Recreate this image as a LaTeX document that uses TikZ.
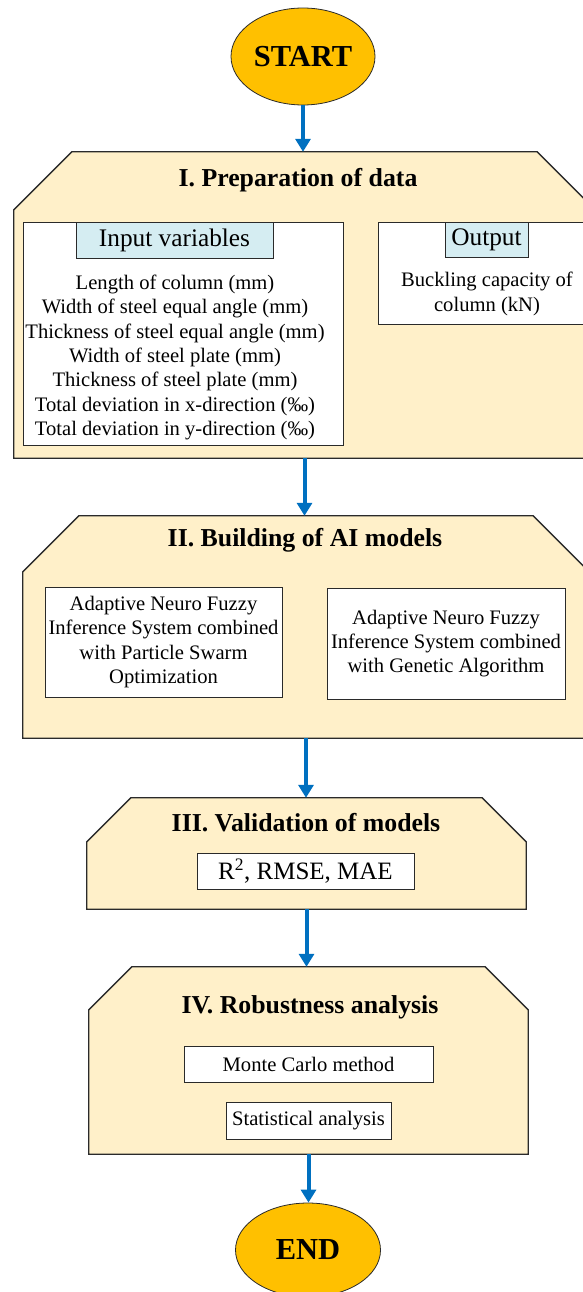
\documentclass[tikz,border=0pt]{standalone}
\usepackage{fontspec}
\setmainfont{Liberation Serif}
\usetikzlibrary{arrows.meta,shapes.geometric,positioning}
\definecolor{secfill}{HTML}{FFF0C9}
\definecolor{termfill}{HTML}{FFC000}
\definecolor{headfill}{HTML}{D5EDF2}
\definecolor{arrowblue}{HTML}{0070C0}
\definecolor{edge}{HTML}{2A2A2A}
\tikzset{
  area/.style={draw=none, inner sep=0pt, minimum width=#1},
  secshape/.style={fill=secfill, draw=edge, line width=1.3pt, line join=miter},
  terminal/.style={ellipse, fill=termfill, draw=edge, line width=0.8pt, inner sep=0pt,
    font=\fontsize{30.5}{31}\selectfont\bfseries},
  title/.style={font=\fontsize{25.8}{28}\selectfont\bfseries, inner sep=0pt},
  whitebox/.style={rectangle, fill=white, draw=edge, line width=1pt, inner sep=0pt},
  headbox/.style={rectangle, fill=headfill, draw=edge, line width=1pt, inner sep=0pt,
    font=\fontsize{25.3}{28}\selectfont},
  body/.style={font=\fontsize{20.6}{24.3}\selectfont, align=center, inner sep=0pt},
  flow/.style={draw=arrowblue, line width=4pt, -{Triangle[width=15pt,length=13pt]}},
}
% section outline: rectangle with the two upper corners cut off
\newcommand\chamferbox[2]{%
  \draw[secshape] (#1.south west) -- ([yshift=-#2]#1.north west)
    -- ([xshift=#2]#1.north west) -- ([xshift=-#2]#1.north east)
    -- ([yshift=-#2]#1.north east) -- (#1.south east) -- cycle;}
\begin{document}
\begin{tikzpicture}[x=1pt,y=-1pt]
\useasboundingbox (0,0) rectangle (583,1292);

% terminals
\node[terminal, minimum width=144pt, minimum height=97pt] (start) at (303,56.5) {START};
\node[terminal, minimum width=145pt, minimum height=94pt] (end) at (308,1250) {END};

% section areas
\node[area=581pt, minimum height=306pt] (s1) at (304.5,305) {};
\node[area=566pt, minimum height=222pt] (s2) at (306,627) {};
\node[area=439pt, minimum height=111pt] (s3) at (306.5,853.5) {};
\node[area=439pt, minimum height=187pt] (s4) at (308.5,1060.5) {};
\chamferbox{s1}{58pt}
\chamferbox{s2}{56pt}
\chamferbox{s3}{44pt}
\chamferbox{s4}{43pt}

% I. Preparation of data
\node[title] (t1) at (298,180) {I. Preparation of data};
\node[whitebox, minimum width=320pt, minimum height=223pt] (inbox) at (183,333.5) {};
\node[headbox, minimum width=197pt, minimum height=36pt] (inhead) at (174.5,240) {Input variables};
\node[body] (inlist) at (175,357.5) {Length of column (mm)\\
  Width of steel equal angle (mm)\\
  Thickness of steel equal angle (mm)\\
  Width of steel plate (mm)\\
  Thickness of steel plate (mm)\\
  Total deviation in x-direction (‰)\\
  Total deviation in y-direction (‰)};
\node[whitebox, minimum width=222pt, minimum height=102pt] (outbox) at (489,273) {};
\node[headbox, minimum width=83pt, minimum height=35pt] (outhead) at (486.5,239.5) {Output};
\node[body] (outtext) at (487,294) {Buckling capacity of\\ column (kN)};

% II. Building of AI models
\node[title] (t2) at (305,540) {II. Building of AI models};
\node[whitebox, body, minimum width=237pt, minimum height=110pt] (pso) at (163.5,642)
  {Adaptive Neuro Fuzzy\\ Inference System combined\\ with Particle Swarm\\ Optimization};
\node[whitebox, body, minimum width=238pt, minimum height=111pt] (ga) at (446,643.5)
  {Adaptive Neuro Fuzzy\\ Inference System combined\\ with Genetic Algorithm};

% III. Validation of models
\node[title] (t3) at (306,823) {III. Validation of models};
\node[whitebox, minimum width=217pt, minimum height=36pt,
  font=\fontsize{25}{28}\selectfont] (metrics) at (305.5,871) {R\textsuperscript{2}, RMSE, MAE};

% IV. Robustness analysis
\node[title] (t4) at (310,1007) {IV. Robustness analysis};
\node[whitebox, body, minimum width=249pt, minimum height=36pt] (mc) at (308.5,1064) {Monte Carlo method};
\node[whitebox, body, minimum width=165pt, minimum height=37pt] (stat) at (308.5,1120.5) {Statistical analysis};

% flow arrows
\draw[flow] (start.south) -- (start.south |- s1.north);
\draw[flow] (s1.south) -- (s1.south |- s2.north);
\draw[flow] (s2.south) -- (s2.south |- s3.north);
\draw[flow] (s3.south) -- (s3.south |- s4.north);
\draw[flow] (s4.south) -- (s4.south |- end.north);
\end{tikzpicture}
\end{document}
